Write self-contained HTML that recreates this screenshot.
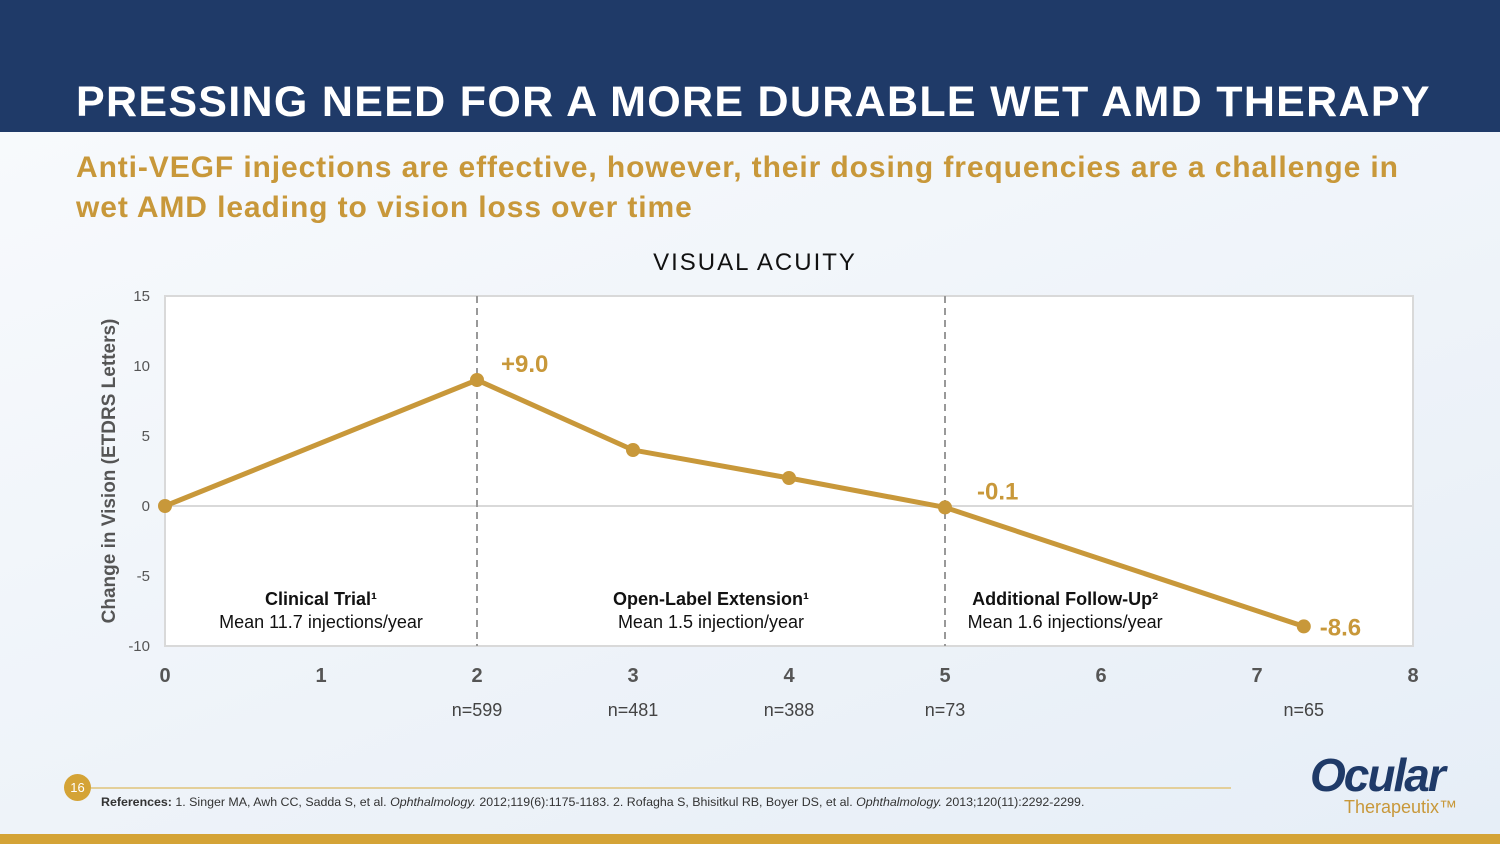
<!DOCTYPE html>
<html><head><meta charset="utf-8"><style>
body{margin:0;width:1500px;height:844px;overflow:hidden;font-family:"Liberation Sans",sans-serif;background:linear-gradient(160deg,#f9fbfd 0%,#eef3f9 60%,#e6eef7 100%);position:relative}
.hdr{position:absolute;left:0;top:0;width:1500px;height:132px;background:#1f3a68}
.title{position:absolute;left:76px;top:78px;color:#fff;font-weight:bold;font-size:43px;letter-spacing:1.3px;white-space:nowrap}
.sub{position:absolute;left:76px;top:148px;color:#c8983a;font-weight:bold;font-size:30px;line-height:40px;width:1400px;letter-spacing:0.9px;white-space:nowrap}
.foot{position:absolute;left:0;top:834px;width:1500px;height:10px;background:#d4a336}
.refs{position:absolute;left:101px;top:795px;font-size:12.4px;color:#333;white-space:nowrap}
.pg{position:absolute;left:64px;top:774px;width:27px;height:27px;border-radius:50%;background:#d4a336;color:#fff;font-size:13px;text-align:center;line-height:27px}
.rule{position:absolute;left:91px;top:787px;width:1140px;height:2px;background:#e3cf9a}
.logo{position:absolute;left:1310px;top:748px;color:#1f3a68;font-size:46px;font-weight:bold;font-style:italic;letter-spacing:-2px}
.logo2{position:absolute;left:1344px;top:797px;color:#c8983a;font-size:18px}
</style></head><body>
<div class="hdr"></div>
<div class="title">PRESSING NEED FOR A MORE DURABLE WET AMD THERAPY</div>
<div class="sub">Anti-VEGF injections are effective, however, their dosing frequencies are a challenge in<br>wet AMD leading to vision loss over time</div>
<svg id="chart" width="1500" height="844" style="position:absolute;left:0;top:0"></svg>
<div class="pg">16</div>
<div class="rule"></div>
<div class="refs"><b>References:</b> 1. Singer MA, Awh CC, Sadda S, et al. <i>Ophthalmology.</i> 2012;119(6):1175-1183. 2. Rofagha S, Bhisitkul RB, Boyer DS, et al. <i>Ophthalmology.</i> 2013;120(11):2292-2299.</div>
<div class="logo">Ocular</div>
<div class="logo2">Therapeutix™</div>
<div class="foot"></div>
<script>
const xVals=[0,2,3,4,5,7.3];
const yVals=[0,9,4,2,-0.1,-8.6];
const xTicks=[0,1,2,3,4,5,6,7,8];
const yTicks=[15,10,5,0,-5,-10];
const nLabels=["n=599","n=481","n=388","n=73","n=65"];
const nX=[2,3,4,5,7.3];
const valueLabels=["+9.0","-0.1","-8.6"];
const valueIdx=[1,4,5];
const dividers=[2,5];
const sections=[["Clinical Trial¹","Mean 11.7 injections/year",1],["Open-Label Extension¹","Mean 1.5 injection/year",3.5],["Additional Follow-Up²","Mean 1.6 injections/year",5.77]];
const L=165,R=1413,T=296,B=646;
const sx=v=>L+(v-0)/(8-0)*(R-L);
const sy=v=>T+(15-v)/(25)*(B-T);
const svg=document.getElementById('chart');
const NS='http://www.w3.org/2000/svg';
function mk(tag,attrs,text){const e=document.createElementNS(NS,tag);for(const k in attrs)e.setAttribute(k,attrs[k]);if(text!==undefined)e.textContent=text;svg.appendChild(e);return e;}
let e;
e=mk('text',{x:755,y:270,'text-anchor':'middle','font-size':24,'font-family':'Liberation Sans',fill:'#111','letter-spacing':'2'},'VISUAL ACUITY');


e=mk('rect',{x:L,y:T,width:R-L,height:B-T,fill:'#fff',stroke:'#d9d9d9','stroke-width':2});


e=mk('line',{x1:L,x2:R,y1:sy(0),y2:sy(0),stroke:'#d9d9d9','stroke-width':2});


dividers.forEach(d=>{e=mk('line',{x1:sx(d),x2:sx(d),y1:T,y2:B,stroke:'#999','stroke-width':2,'stroke-dasharray':'7,5'});

});
yTicks.forEach(t=>{e=mk('text',{x:150,y:sy(t)+5,'text-anchor':'end','font-size':15,fill:'#555'},String(t));

});
xTicks.forEach(t=>{e=mk('text',{x:sx(t),y:682,'text-anchor':'middle','font-size':20,'font-weight':'bold',fill:'#555'},String(t));

});
nLabels.forEach((n,i)=>{e=mk('text',{x:sx(nX[i]),y:716,'text-anchor':'middle','font-size':18,fill:'#444'},n);

});
e=mk('text',{x:0,y:0,transform:'translate(115,471) rotate(-90)','text-anchor':'middle','font-size':19,'font-weight':'bold',fill:'#555'},'Change in Vision (ETDRS Letters)');


sections.forEach(s=>{e=mk('text',{x:sx(s[2]),y:605,'text-anchor':'middle','font-size':18,'font-weight':'bold',fill:'#111'},s[0]);


e=mk('text',{x:sx(s[2]),y:628,'text-anchor':'middle','font-size':18,fill:'#111'},s[1]);

});
e=mk('polyline',{points:xVals.map((x,i)=>sx(x)+','+sy(yVals[i])).join(' '),fill:'none',stroke:'#c8983a','stroke-width':5});


xVals.forEach((x,i)=>{e=mk('circle',{cx:sx(x),cy:sy(yVals[i]),r:7,fill:'#c8983a'});

});
valueLabels.forEach((l,k)=>{const i=valueIdx[k];e=mk('text',{x:sx(xVals[i])+(k==2?16:(k==1?32:24)),y:sy(yVals[i])+(k==2?9:-8),'font-size':24,'font-weight':'bold',fill:'#c8983a'},l);

});
</script>
</body></html>
